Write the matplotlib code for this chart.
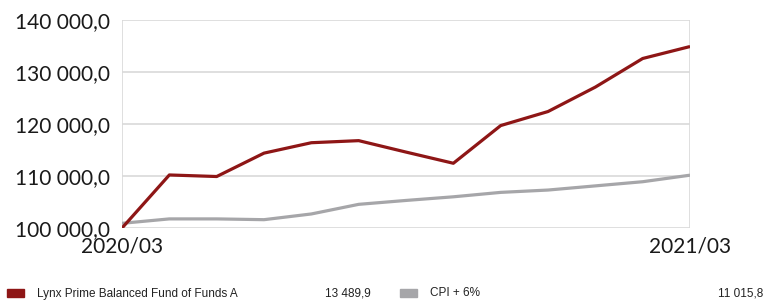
import matplotlib.pyplot as plt
from matplotlib.patches import Rectangle
from matplotlib.ticker import FuncFormatter, MultipleLocator

# monthly values, 2020/03 .. 2021/03
months = ["2020/03", "2020/04", "2020/05", "2020/06", "2020/07", "2020/08", "2020/09",
          "2020/10", "2020/11", "2020/12", "2021/01", "2021/02", "2021/03"]
fund = [100000, 110200, 109900, 114400, 116400, 116800, 114600,
        112450, 119700, 122400, 127100, 132600, 134899]
cpi = [100900, 101750, 101750, 101600, 102700, 104550, 105300,
       106000, 106850, 107300, 108100, 108900, 110158]
fund_label = "Lynx Prime Balanced Fund of Funds A"
cpi_label = "CPI + 6%"
fund_value = "13 489,9"
cpi_value = "11 015,8"

red = "#8e1616"
grey = "#a6a6a9"
tick_font = ["Lato", "DejaVu Sans"]
legend_font = ["Liberation Sans Narrow", "Liberation Sans", "DejaVu Sans"]


def fmt(v, pos):
    return f"{v:,.1f}".replace(",", " ").replace(".", ",")


fig = plt.figure(figsize=(7.65, 3.0), dpi=100)
ax = fig.add_axes([0.1595, 0.24, 0.7425, 0.6933])

x = list(range(len(months)))
ax.plot(x, cpi, color=grey, lw=2.3, solid_capstyle="butt", zorder=3)
ax.plot(x, fund, color=red, lw=2.3, solid_capstyle="butt", zorder=4)

ax.set_xlim(0, len(months) - 1)
ax.set_ylim(100000, 140000)
ax.yaxis.set_major_locator(MultipleLocator(10000))
ax.yaxis.set_major_formatter(FuncFormatter(fmt))
ax.set_xticks([0, len(months) - 1])
ax.set_xticklabels([months[0], months[-1]])
ax.grid(axis="y", color="#d9d9d9", lw=1.2)
for s in ax.spines.values():
    s.set_visible(False)
ax.axvline(0, color="#d9d9d9", lw=1.2, zorder=1)
ax.axvline(len(months) - 1, color="#d9d9d9", lw=1.2, zorder=1)
ax.tick_params(length=0, labelsize=15, colors="#1a1a1a")
ax.tick_params(axis="y", pad=9)
ax.tick_params(axis="x", pad=6)
for lab in ax.get_xticklabels() + ax.get_yticklabels():
    lab.set_family(tick_font)

# legend row at the bottom
fig.patches.append(Rectangle((7 / 765, 1 - 297 / 300), 17 / 765, 8 / 300,
                             transform=fig.transFigure, color=red, figure=fig))
fig.patches.append(Rectangle((400 / 765, 1 - 297 / 300), 17 / 765, 8 / 300,
                             transform=fig.transFigure, color=grey, figure=fig))
ty = 1 - 293.5 / 300
kw = dict(fontsize=8.5, family=legend_font, va="center", color="#222222")
fig.text(37 / 765, ty, fund_label, **kw)
fig.text(325 / 765, ty, fund_value, **kw)
fig.text(430 / 765, ty, cpi_label, **kw)
fig.text(763 / 765, ty, cpi_value, ha="right", **kw)

fig.savefig("out.png", dpi=100)
